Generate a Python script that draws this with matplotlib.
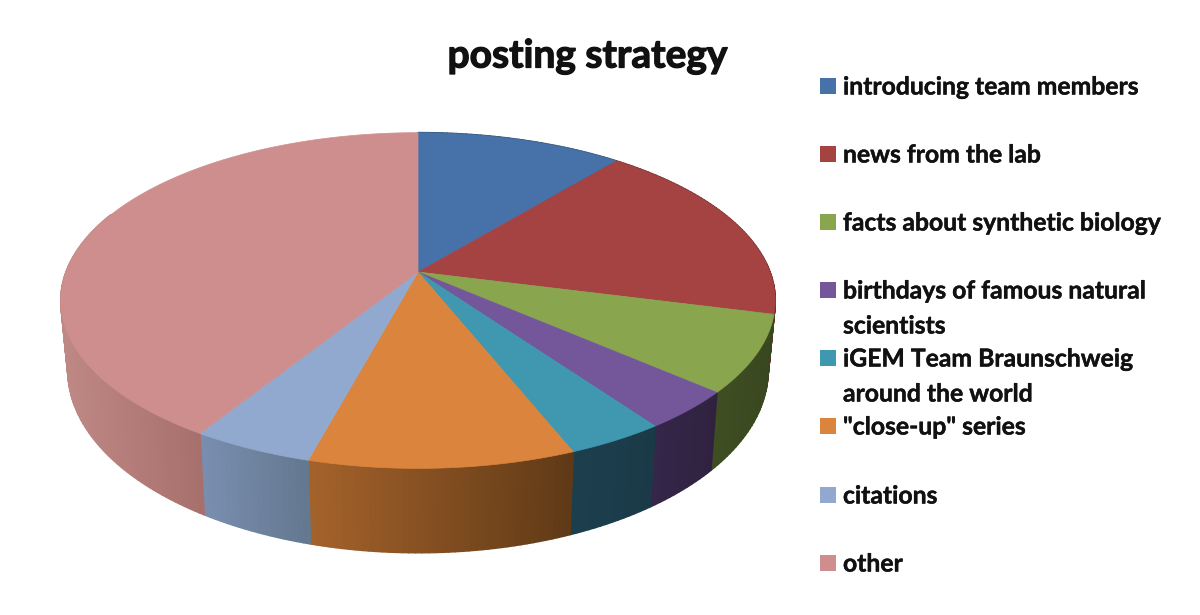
import numpy as np
import matplotlib
matplotlib.use("Agg")
import matplotlib.pyplot as plt
from matplotlib.collections import PolyCollection
from matplotlib.patches import Polygon, Rectangle
import matplotlib.patheffects as pe

title = "posting strategy"
categories = ["introducing team members", "news from the lab", "facts about synthetic biology",
              "birthdays of famous natural\nscientists", "iGEM Team Braunschweig\naround the world",
              '"close-up" series', "citations", "other"]
values = [11.0, 18.0, 7.4, 3.75, 3.8, 10.25, 4.7, 41.1]
top_colors = ["#4672A9", "#A54343", "#89A54E", "#73579A", "#4097B0", "#DA843D", "#92A9CF", "#CE8E8E"]
side_left = ["#2B4566", "#6A2A2A", "#3F4E22", "#35264A", "#1C3F4E", "#A5622B", "#7A8FB0", "#BE8885"]
side_right = ["#2B4566", "#6A2A2A", "#394720", "#30223F", "#1B3A48", "#5F3A16", "#63778F", "#A8706C"]

legend_y = [86, 154, 222, 290, 358, 426, 495, 563]

W, H = 1200, 615
fig = plt.figure(figsize=(W / 100, H / 100), dpi=100, facecolor="white")
ax = fig.add_axes([0, 0, 1, 1])
ax.set_xlim(0, W)
ax.set_ylim(H, 0)
ax.axis("off")

X0, Y0, A, B, K = 418.0, 272.0, 352.0, 163.0, 0.17


def top_xy(theta):
    """Perspective projection of a unit-disc point; theta clockwise from 12 o'clock."""
    u, v = np.sin(theta), np.cos(theta)
    w = 1 + K * v
    return X0 + A * u / w, Y0 - B * v / w


def bottom_xy(x, y):
    return X0 + 0.98 * (x - X0), 1.086 * y + 44


fracs = np.array(values) / np.sum(values)
edges = np.concatenate([[0], np.cumsum(fracs)]) * 2 * np.pi


def rgb(c):
    return np.array(matplotlib.colors.to_rgb(c))


# side walls
for i in range(len(values)):
    th = np.linspace(edges[i], edges[i + 1], max(int(fracs[i] * 400), 6))
    th = th[th <= np.radians(292)] if th[0] < np.radians(292) else th[:0]
    if len(th) < 2:
        continue
    x, y = top_xy(th)
    xb, yb = bottom_xy(x, y)
    span = max(x.max() - x.min(), 1)
    polys, cols = [], []
    for j in range(len(th) - 1):
        polys.append([(x[j], y[j]), (x[j + 1], y[j + 1]), (xb[j + 1], yb[j + 1]), (xb[j], yb[j])])
        t = ((x[j] + x[j + 1]) / 2 - x.min()) / span
        cols.append((1 - t) * rgb(side_left[i]) + t * rgb(side_right[i]))
    ax.add_collection(PolyCollection(polys, facecolors=cols, edgecolors=cols, linewidths=1.2, zorder=2))

# top surface
for i in range(len(values)):
    th = np.linspace(edges[i], edges[i + 1], max(int(fracs[i] * 900), 6))
    x, y = top_xy(th)
    pts = np.column_stack([np.r_[X0, x], np.r_[Y0, y]])
    ax.add_patch(Polygon(pts, closed=True, facecolor=top_colors[i], edgecolor=top_colors[i],
                         linewidth=0.5, zorder=3))

# title
stroke = [pe.withStroke(linewidth=0.9, foreground="#111111")]
ax.text(587.5, 56, title, ha="center", va="center", fontsize=28, fontweight="bold",
        family="Lato", color="#111111", path_effects=stroke, zorder=5)

# legend
for lab, ly, col in zip(categories, legend_y, top_colors):
    ax.add_patch(Rectangle((820, ly - 8), 16, 16, facecolor=col, edgecolor="none", zorder=5))
    for k, line in enumerate(lab.split("\n")):
        ax.text(843, ly + k * 35 + 1, line, ha="left", va="center", fontsize=17.8, family="Lato",
                fontweight="bold", color="#111111", zorder=5,
                path_effects=[pe.withStroke(linewidth=0.3, foreground="#111111")])

fig.savefig("out.png", dpi=100, facecolor="white")
